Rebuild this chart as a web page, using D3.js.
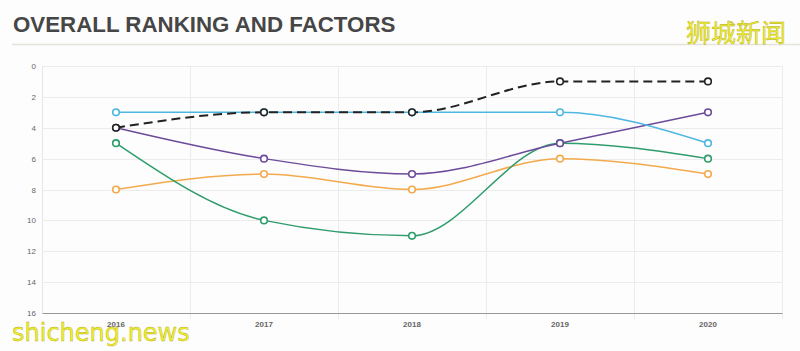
<!DOCTYPE html>
<html>
<head>
<meta charset="utf-8">
<script src="https://cdn.jsdelivr.net/npm/d3@7"></script>
<style>
  body { margin: 0; background: #fefdfd; }
  svg { display: block; font-family: "Liberation Sans", Arial, sans-serif; }
</style>
</head>
<body>
<script>
var years = ['2016', '2017', '2018', '2019', '2020'];
var yTicks = [0, 2, 4, 6, 8, 10, 12, 14, 16];

var overall  = [4, 3, 3, 1, 1];
var cyanSer  = [3, 3, 3, 3, 5];
var purpSer  = [4, 6, 7, 5, 3];
var greenSer = [5, 10, 11, 5, 6];
var orngSer  = [8, 7, 8, 6, 7];

var series = [
  {name: 'orange', values: orngSer, color: '#f2aa4c', dash: null},
  {name: 'green', values: greenSer, color: '#2f9c6b', dash: null},
  {name: 'purple', values: purpSer, color: '#6b4b9a', dash: null},
  {name: 'cyan', values: cyanSer, color: '#4db6e2', dash: null},
  {name: 'overall', values: overall, color: '#222222', dash: '9,5'}
];

var W = 800, H = 351;
var margin = {top: 66, left: 42, right: 18, bottom: 38},
    width = W - margin.left - margin.right,
    height = H - margin.top - margin.bottom;

var svg = d3.select('body')
    .append('svg')
    .attr('width', W)
    .attr('height', H);

// title
svg.append('text')
    .attr('x', 13)
    .attr('y', 32)
    .style('font-size', '22.3px')
    .style('font-weight', 'bold')
    .style('fill', '#464646')
    .text('OVERALL RANKING AND FACTORS');

svg.append('line')
    .attr('x1', 12).attr('x2', 800)
    .attr('y1', 44.5).attr('y2', 44.5)
    .style('stroke', '#e4e3dd')
    .style('stroke-width', 1.5);

var g = svg.append('g')
    .attr('transform', 'translate(' + margin.left + ',' + margin.top + ')');

var x = d3.scaleBand()
    .domain(years)
    .range([0, width]);

var y = d3.scaleLinear()
    .domain([0, 16])
    .range([0, height]);

// horizontal grid
g.selectAll('line.hgrid')
    .data(yTicks.slice(0, -1))
    .enter()
    .append('line')
    .classed('hgrid', true)
    .attr('x1', 0).attr('x2', width)
    .attr('y1', function(d) { return Math.round(y(d)) + 0.5; })
    .attr('y2', function(d) { return Math.round(y(d)) + 0.5; })
    .style('stroke', '#ececec');

// vertical grid at band boundaries
var bounds = years.map(function(d) { return x(d) + x.bandwidth(); });
g.selectAll('line.vgrid')
    .data(bounds)
    .enter()
    .append('line')
    .classed('vgrid', true)
    .attr('x1', function(d) { return Math.round(d) + 0.5; })
    .attr('x2', function(d) { return Math.round(d) + 0.5; })
    .attr('y1', 0).attr('y2', height + 6)
    .style('stroke', '#ececec');

// left axis
var yAxis = g.append('g')
    .call(d3.axisLeft(y).tickValues(yTicks).tickSize(0).tickPadding(6));
yAxis.select('.domain').style('stroke', '#e6e6e6');
yAxis.selectAll('text')
    .style('font-size', '8px')
    .style('fill', '#666');

// bottom axis
var xAxis = g.append('g')
    .attr('transform', 'translate(0,' + height + ')')
    .call(d3.axisBottom(x).tickSize(0).tickPadding(8));
xAxis.select('.domain').style('stroke', '#999');
xAxis.selectAll('text')
    .style('font-size', '8px')
    .style('font-weight', 'bold')
    .style('fill', '#666');

var line = d3.line()
    .x(function(d, i) { return x(years[i]) + x.bandwidth() / 2; })
    .y(function(d) { return y(d); })
    .curve(d3.curveMonotoneX);

series.forEach(function(s) {
  g.append('path')
      .datum(s.values)
      .attr('d', line)
      .style('fill', 'none')
      .style('stroke', s.color)
      .style('stroke-width', s.dash ? 2 : 1.5)
      .style('stroke-dasharray', s.dash);
});

series.forEach(function(s) {
  g.selectAll('circle.' + s.name)
      .data(s.values)
      .enter()
      .append('circle')
      .classed(s.name, true)
      .attr('cx', function(d, i) { return x(years[i]) + x.bandwidth() / 2; })
      .attr('cy', function(d) { return y(d); })
      .attr('r', 3.3)
      .style('fill', '#fff')
      .style('stroke', s.color)
      .style('stroke-width', 1.6);
});

// watermarks
svg.append('text')
    .attr('x', 786)
    .attr('y', 42)
    .attr('text-anchor', 'end')
    .style('font-family', '"Noto Sans CJK SC", sans-serif')
    .style('font-size', '25px')
    .style('fill', '#eef02a')
    .style('stroke', '#b5a82a')
    .style('stroke-width', 0.4)
    .text('狮城新闻');

svg.append('text')
    .attr('x', 12)
    .attr('y', 341)
    .style('font-family', '"DejaVu Sans", sans-serif')
    .style('font-size', '24px')
    .style('fill', '#eef02a')
    .style('stroke', '#b5a82a')
    .style('stroke-width', 0.4)
    .text('shicheng.news');
</script>
</body>
</html>
